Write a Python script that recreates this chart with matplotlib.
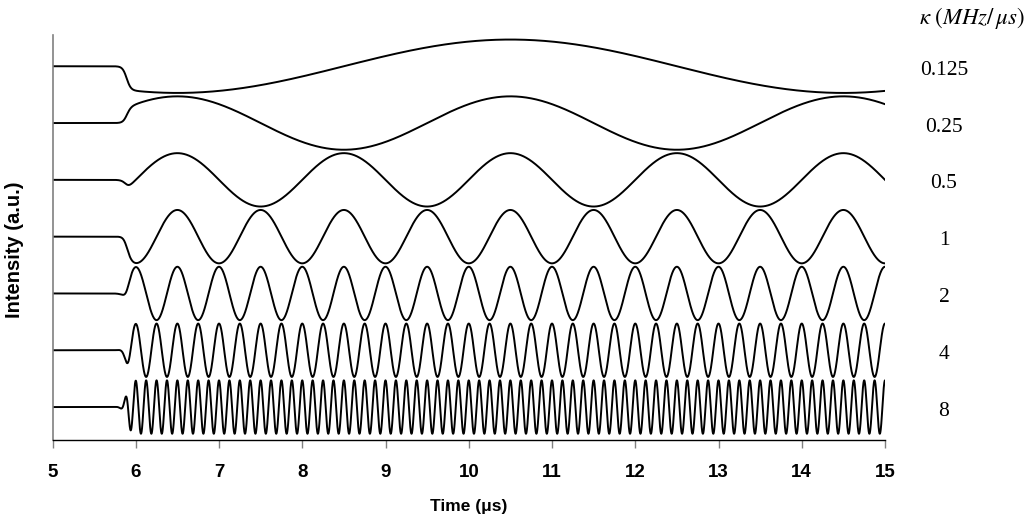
import numpy as np
import matplotlib
matplotlib.use("Agg")
import matplotlib.pyplot as plt
from matplotlib.transforms import blended_transform_factory

plt.rcParams["font.family"] = ["Liberation Sans", "DejaVu Sans"]
plt.rcParams["mathtext.fontset"] = "stix"

# Chirp rates (MHz/us), one trace each, top to bottom
kappa_labels = ["0.125", "0.25", "0.5", "1", "2", "4", "8"]
kappa = [0.125, 0.25, 0.5, 1.0, 2.0, 4.0, 8.0]
offsets = [7, 6, 5, 4, 3, 2, 1]          # vertical stacking of traces
x_ticks = [5, 6, 7, 8, 9, 10, 11, 12, 13, 14, 15]

# Signal model parameters
amplitude = 0.47      # oscillation amplitude (a.u.)
t_on = 5.89           # switch-on time (us)
t_rise = 0.025        # switch-on rise constant (us)
t_ref = 10.5          # common phase reference (us)

t = np.linspace(5.0, 15.0, 40001)
gate = 1.0 / (1.0 + np.exp(-(t - t_on) / t_rise))

fig = plt.figure(figsize=(10.30, 5.18), dpi=100)
ax = fig.add_axes([52.5 / 1030, 78 / 518, (885 - 52.5) / 1030, (440 - 35) / 518])

for k, off in zip(kappa, offsets):
    y = off + amplitude * gate * np.cos(2 * np.pi * k * (t - t_ref))
    ax.plot(t, y, color="black", lw=1.4, solid_joinstyle="round")

ax.set_xlim(5, 15)
ax.set_ylim(0.42, 7.55)
ax.set_xticks(x_ticks)
ax.set_xticklabels([str(v) for v in x_ticks], fontweight="bold", fontsize=13.5)
ax.set_yticks([])
ax.tick_params(axis="x", direction="out", length=6, width=1, color="#808080", pad=11)

for side in ("top", "right"):
    ax.spines[side].set_visible(False)
ax.spines["left"].set_color("#808080")
ax.spines["left"].set_linewidth(1.2)
ax.spines["bottom"].set_color("black")
ax.spines["bottom"].set_linewidth(1.0)

ax.set_xlabel("Time (μs)", fontweight="bold", fontsize=12.5, labelpad=13)
ax.set_ylabel("Intensity (a.u.)", fontweight="bold", fontsize=14.5)
ax.yaxis.set_label_coords(-0.034, 0.47)

# Chirp-rate labels on the right of each trace
trans = blended_transform_factory(fig.transFigure, ax.transData)
for lab, off in zip(kappa_labels, offsets):
    ax.text(944 / 1030, off - 0.07, lab, transform=trans, ha="center", va="center",
            fontsize=15.5, family=["Liberation Serif", "DejaVu Serif"], clip_on=False)

fig.text(972 / 1030, 1 - 18 / 518, r"$\kappa\ (MHz/\,\mu s)$", ha="center", va="center",
         fontsize=16.5)

fig.savefig("out.png", dpi=100)
